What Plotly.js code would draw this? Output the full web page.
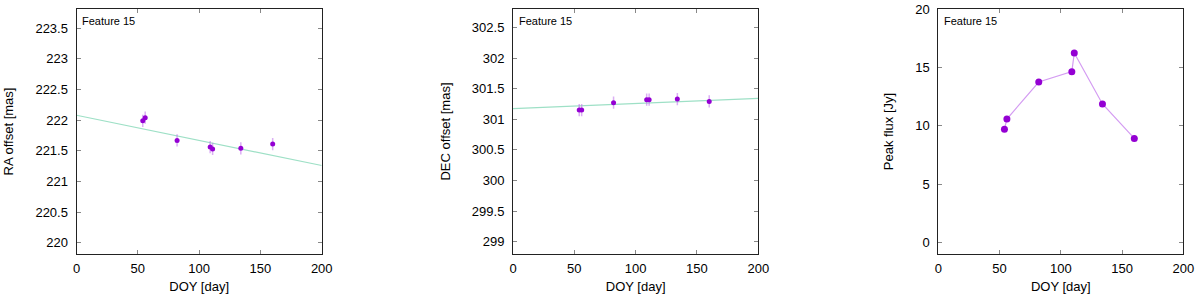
<!DOCTYPE html>
<html>
<head>
<meta charset="utf-8">
<script src="https://cdn.plot.ly/plotly-3.0.1.min.js"></script>
<style>html,body{margin:0;padding:0;background:#fff;}#chart{width:1200px;height:300px;}</style>
</head>
<body>
<div id="chart"></div>
<script>
// Data
const doy = [54, 56, 82, 109, 111, 134, 160];
const raOffset = [221.99, 222.04, 221.67, 221.56, 221.53, 221.54, 221.61];
const raErr = [0.1, 0.1, 0.1, 0.1, 0.1, 0.1, 0.1];
const decOffset = [301.15, 301.15, 301.27, 301.32, 301.32, 301.33, 301.29];
const decErr = [0.1, 0.1, 0.1, 0.1, 0.1, 0.1, 0.1];
const peakFlux = [9.7, 10.57, 13.74, 14.63, 16.23, 11.86, 8.91];
const fitX = [0, 200];
const raFit = [222.08, 221.26];
const decFit = [301.175, 301.34];
const featureLabel = "Feature 15";

const markerColor = '#9400d3';
const errColor = 'rgba(190,110,235,0.55)';
const fitColor = '#9ee0c6';
const fluxLine = '#d49cf2';
const font = 'Liberation Sans, Arial, Helvetica, sans-serif';

const traces = [
  {x: fitX, y: raFit, mode: 'lines', line: {color: fitColor, width: 1.2}, xaxis: 'x', yaxis: 'y', hoverinfo: 'skip'},
  {x: doy, y: raOffset, mode: 'markers', marker: {color: markerColor, size: 5},
   error_y: {type: 'data', array: raErr, color: errColor, thickness: 1.5, width: 0}, xaxis: 'x', yaxis: 'y'},
  {x: fitX, y: decFit, mode: 'lines', line: {color: fitColor, width: 1.2}, xaxis: 'x2', yaxis: 'y2', hoverinfo: 'skip'},
  {x: doy, y: decOffset, mode: 'markers', marker: {color: markerColor, size: 5},
   error_y: {type: 'data', array: decErr, color: errColor, thickness: 1.5, width: 0}, xaxis: 'x2', yaxis: 'y2'},
  {x: doy, y: peakFlux, mode: 'lines+markers', line: {color: fluxLine, width: 1.2},
   marker: {color: markerColor, size: 7}, xaxis: 'x3', yaxis: 'y3'}
];

function xax(domain, anchor) {
  return {
    domain: domain, anchor: anchor, range: [0, 200], dtick: 50, tick0: 0,
    showline: true, linecolor: '#222', linewidth: 1, mirror: 'ticks',
    ticks: 'inside', ticklen: 4, tickcolor: '#888', showgrid: false, zeroline: false,
    ticklabelstandoff: 2,
    tickfont: {size: 13, color: '#000', family: font},
    title: {text: 'DOY [day]', font: {size: 13, color: '#000', family: font}, standoff: 7}
  };
}
function yax(range, dtick, tick0, title, anchor) {
  return {
    domain: [0.1533, 0.97], anchor: anchor, range: range, dtick: dtick, tick0: tick0,
    showline: true, linecolor: '#222', linewidth: 1, mirror: 'ticks',
    ticks: 'inside', ticklen: 4, tickcolor: '#888', showgrid: false, zeroline: false,
    ticklabelstandoff: 5,
    tickfont: {size: 13, color: '#000', family: font},
    title: {text: title, font: {size: 13, color: '#000', family: font}, standoff: 18}
  };
}

const layout = {
  width: 1200, height: 300, showlegend: false,
  margin: {l: 0, r: 0, t: 0, b: 0},
  paper_bgcolor: '#fff', plot_bgcolor: '#fff',
  font: {family: font, color: '#000'},
  xaxis: xax([0.0638, 0.2681], 'y'),
  yaxis: yax([219.815, 223.815], 0.5, 220, 'RA offset [mas]', 'x'),
  xaxis2: xax([0.4275, 0.6319], 'y2'),
  yaxis2: yax([298.8, 302.8], 0.5, 299, 'DEC offset [mas]', 'x2'),
  xaxis3: xax([0.7819, 0.9861], 'y3'),
  yaxis3: yax([-1, 20], 5, 0, 'Peak flux [Jy]', 'x3'),
  annotations: ['x', 'x2', 'x3'].map((xa, i) => ({
    text: featureLabel, xref: xa + ' domain', yref: (i === 0 ? 'y' : 'y' + (i + 1)) + ' domain',
    x: 0.015, y: 0.985, xanchor: 'left', yanchor: 'top', showarrow: false,
    font: {size: 11, color: '#000', family: font}
  }))
};

Plotly.newPlot('chart', traces, layout, {displayModeBar: false, staticPlot: true});
</script>
</body>
</html>
